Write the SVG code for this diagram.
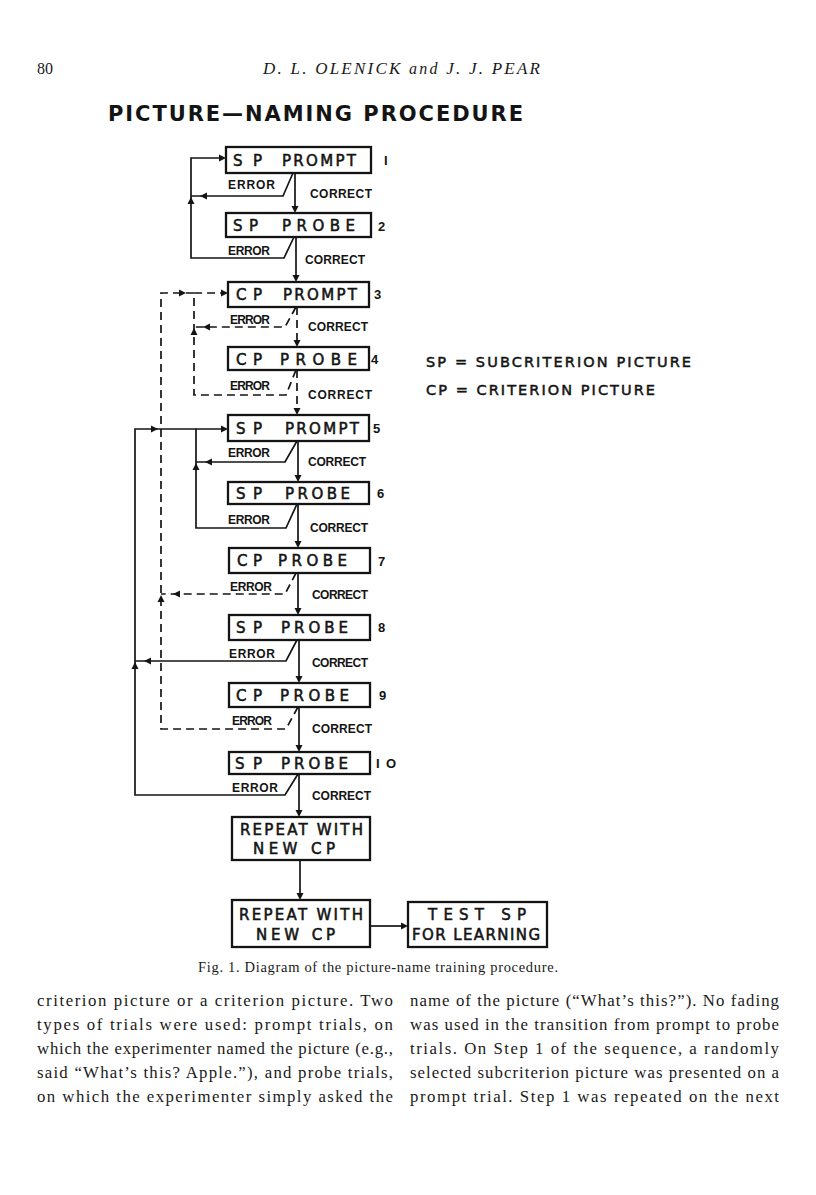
<svg xmlns="http://www.w3.org/2000/svg" xmlns:xlink="http://www.w3.org/1999/xlink" width="816" height="1195" viewBox="0 0 816 1195">
<style>
.bg{fill:#ffffff}
.box{fill:#fff;stroke:#141414;stroke-width:2.3}
.ln{fill:none;stroke:#141414;stroke-width:1.7}
.dsh{stroke-dasharray:8 5}
.lbl{font-family:"DejaVu Sans","Liberation Sans",sans-serif;font-size:15px;fill:#141414;stroke:#141414;stroke-width:0.55}
.sm{font-family:"Liberation Sans",Arial,sans-serif;font-weight:bold;font-size:12px;fill:#141414}
.num{font-family:"Liberation Sans",Arial,sans-serif;font-weight:bold;font-size:13px;fill:#141414}
.key{font-family:"DejaVu Sans","Liberation Sans",sans-serif;font-size:14.5px;fill:#141414;stroke:#141414;stroke-width:0.5}
.title{font-family:"DejaVu Sans","Liberation Sans",sans-serif;font-weight:bold;font-size:21px;fill:#141414}
.serif{font-family:"Liberation Serif","Times New Roman",serif;fill:#1a1a1a}
.body{font-family:"Liberation Serif","Times New Roman",serif;font-size:16.8px;fill:#1a1a1a}
.ah{fill:#141414}
</style>
<defs>
<path id="arr" d="M0,0 L-7,-3.5 L-7,3.5 Z"/>
</defs>
<rect class="bg" x="0" y="0" width="816" height="1195"/>

<g id="header">
<text class="serif" x="37" y="74" font-size="16">80</text>
<text class="serif" x="263" y="74" font-size="17" font-style="italic" textLength="277" lengthAdjust="spacing">D. L. OLENICK <tspan font-size="16">and</tspan> J. J. PEAR</text>
<text class="title" x="108" y="121" textLength="415" lengthAdjust="spacing">PICTURE—NAMING  PROCEDURE</text>
</g>

<g id="connectors">
<!-- main correct line -->
<line class="ln" x1="295" y1="173" x2="295" y2="207"/>
<line class="ln" x1="296" y1="237" x2="296" y2="276"/>
<line class="ln dsh" x1="297" y1="307" x2="297" y2="341"/>
<line class="ln dsh" x1="297" y1="370" x2="297" y2="409"/>
<line class="ln" x1="298" y1="441" x2="298" y2="476"/>
<line class="ln" x1="298" y1="504" x2="298" y2="542"/>
<line class="ln" x1="298" y1="573" x2="298" y2="609"/>
<line class="ln" x1="299" y1="640" x2="299" y2="677"/>
<line class="ln" x1="299" y1="707" x2="299" y2="746"/>
<line class="ln" x1="299" y1="774" x2="299" y2="811"/>
<line class="ln" x1="300" y1="860" x2="300" y2="894"/>
<line class="ln" x1="370" y1="926" x2="402" y2="926"/>

<!-- loop 1/2 (solid) -->
<polyline class="ln" points="293,173 283,196 191,196"/>
<polyline class="ln" points="294,237 284,258 191,258 191,158 220,158"/>
<!-- loop 3/4 (dashed) -->
<polyline class="ln dsh" points="296,307 285,327 194,327"/>
<polyline class="ln dsh" points="296,370 286,395 194,395 194,293 222,293"/>
<!-- outer dashed -->
<polyline class="ln dsh" points="296,573 285,594 161,594"/>
<polyline class="ln dsh" points="298,707 286,729 161,729 161,293 194,293"/>
<!-- loop 5/6 (solid) -->
<polyline class="ln" points="297,441 285,462 196,462"/>
<polyline class="ln" points="297,504 286,528 196,528 196,429 222,429"/>
<!-- outer solid -->
<polyline class="ln" points="297,640 286,661 135,661"/>
<polyline class="ln" points="298,774 285,795 135,795 135,429 196,429"/>

<!-- arrowheads -->
<use class="ah" xlink:href="#arr" transform="translate(295,213) rotate(90)"/>
<use class="ah" xlink:href="#arr" transform="translate(296,282) rotate(90)"/>
<use class="ah" xlink:href="#arr" transform="translate(297,347) rotate(90)"/>
<use class="ah" xlink:href="#arr" transform="translate(297,415) rotate(90)"/>
<use class="ah" xlink:href="#arr" transform="translate(298,482) rotate(90)"/>
<use class="ah" xlink:href="#arr" transform="translate(298,548) rotate(90)"/>
<use class="ah" xlink:href="#arr" transform="translate(298,615) rotate(90)"/>
<use class="ah" xlink:href="#arr" transform="translate(299,683) rotate(90)"/>
<use class="ah" xlink:href="#arr" transform="translate(299,752) rotate(90)"/>
<use class="ah" xlink:href="#arr" transform="translate(299,817) rotate(90)"/>
<use class="ah" xlink:href="#arr" transform="translate(300,900) rotate(90)"/>
<use class="ah" xlink:href="#arr" transform="translate(408,926)"/>

<use class="ah" xlink:href="#arr" transform="translate(226,158)"/>
<use class="ah" xlink:href="#arr" transform="translate(200,196) rotate(180)"/>
<use class="ah" xlink:href="#arr" transform="translate(191,197) rotate(-90)"/>

<use class="ah" xlink:href="#arr" transform="translate(228,293)"/>
<use class="ah" xlink:href="#arr" transform="translate(186,293)"/>
<use class="ah" xlink:href="#arr" transform="translate(203,327) rotate(180)"/>
<use class="ah" xlink:href="#arr" transform="translate(194,328) rotate(-90)"/>

<use class="ah" xlink:href="#arr" transform="translate(173,594) rotate(180)"/>
<use class="ah" xlink:href="#arr" transform="translate(161,595) rotate(-90)"/>

<use class="ah" xlink:href="#arr" transform="translate(228,429)"/>
<use class="ah" xlink:href="#arr" transform="translate(158,429)"/>
<use class="ah" xlink:href="#arr" transform="translate(205,462) rotate(180)"/>
<use class="ah" xlink:href="#arr" transform="translate(196,463) rotate(-90)"/>

<use class="ah" xlink:href="#arr" transform="translate(144,661) rotate(180)"/>
<use class="ah" xlink:href="#arr" transform="translate(135,662) rotate(-90)"/>

<!-- connector labels -->
<text class="sm" x="228" y="189" textLength="47">ERROR</text>
<text class="sm" x="310" y="198" textLength="62">CORRECT</text>
<text class="sm" x="228" y="255" textLength="42">ERROR</text>
<text class="sm" x="305" y="264" textLength="60">CORRECT</text>
<text class="sm" x="230" y="324" textLength="40">ERROR</text>
<text class="sm" x="308" y="331" textLength="60">CORRECT</text>
<text class="sm" x="230" y="390" textLength="40">ERROR</text>
<text class="sm" x="308" y="399" textLength="64">CORRECT</text>
<text class="sm" x="228" y="457" textLength="42">ERROR</text>
<text class="sm" x="308" y="466" textLength="58">CORRECT</text>
<text class="sm" x="228" y="524" textLength="42">ERROR</text>
<text class="sm" x="310" y="532" textLength="58">CORRECT</text>
<text class="sm" x="230" y="591" textLength="42">ERROR</text>
<text class="sm" x="312" y="599" textLength="56">CORRECT</text>
<text class="sm" x="229" y="658" textLength="46">ERROR</text>
<text class="sm" x="312" y="667" textLength="56">CORRECT</text>
<text class="sm" x="232" y="725" textLength="40">ERROR</text>
<text class="sm" x="312" y="733" textLength="60">CORRECT</text>
<text class="sm" x="232" y="792" textLength="46">ERROR</text>
<text class="sm" x="312" y="800" textLength="59">CORRECT</text>
</g>

<g id="n1"><rect class="box" x="226" y="147" width="145" height="26"/>
<text class="lbl"><tspan x="233" y="166" textLength="29">SP</tspan> <tspan x="282" y="166" textLength="74">PROMPT</tspan></text>
<text class="num" x="384" y="165">I</text></g>

<g id="n2"><rect class="box" x="226" y="213" width="145" height="24"/>
<text class="lbl"><tspan x="233" y="231" textLength="25">SP</tspan> <tspan x="282" y="231" textLength="73">PROBE</tspan></text>
<text class="num" x="378" y="231">2</text></g>

<g id="n3"><rect class="box" x="228" y="282" width="141" height="25"/>
<text class="lbl"><tspan x="236" y="300" textLength="26">CP</tspan> <tspan x="283" y="300" textLength="74">PROMPT</tspan></text>
<text class="num" x="374" y="299">3</text></g>

<g id="n4"><rect class="box" x="228" y="347" width="141" height="23"/>
<text class="lbl"><tspan x="236" y="365" textLength="26">CP</tspan> <tspan x="280" y="365" textLength="77">PROBE</tspan></text>
<text class="num" x="371" y="364">4</text></g>

<g id="n5"><rect class="box" x="228" y="415" width="141" height="26"/>
<text class="lbl"><tspan x="236" y="434" textLength="26">SP</tspan> <tspan x="285" y="434" textLength="74">PROMPT</tspan></text>
<text class="num" x="373" y="433">5</text></g>

<g id="n6"><rect class="box" x="228" y="482" width="141" height="22"/>
<text class="lbl"><tspan x="236" y="499" textLength="26">SP</tspan> <tspan x="285" y="499" textLength="65">PROBE</tspan></text>
<text class="num" x="377" y="498">6</text></g>

<g id="n7"><rect class="box" x="229" y="548" width="141" height="25"/>
<text class="lbl"><tspan x="237" y="566" textLength="25">CP</tspan> <tspan x="278" y="566" textLength="69">PROBE</tspan></text>
<text class="num" x="378" y="566">7</text></g>

<g id="n8"><rect class="box" x="229" y="615" width="141" height="25"/>
<text class="lbl"><tspan x="236" y="633" textLength="26">SP</tspan> <tspan x="281" y="633" textLength="67">PROBE</tspan></text>
<text class="num" x="378" y="632">8</text></g>

<g id="n9"><rect class="box" x="229" y="683" width="141" height="24"/>
<text class="lbl"><tspan x="236" y="701" textLength="26">CP</tspan> <tspan x="280" y="701" textLength="69">PROBE</tspan></text>
<text class="num" x="379" y="700">9</text></g>

<g id="n10"><rect class="box" x="229" y="752" width="141" height="22"/>
<text class="lbl"><tspan x="235" y="769" textLength="27">SP</tspan> <tspan x="281" y="769" textLength="67">PROBE</tspan></text>
<text class="num" x="376" y="768" textLength="20">IO</text></g>

<g id="n11"><rect class="box" x="232" y="817" width="138" height="43"/>
<text class="lbl" x="240" y="835" textLength="123">REPEAT WITH</text>
<text class="lbl" x="253" y="854" textLength="82">NEW CP</text></g>

<g id="n12"><rect class="box" x="232" y="900" width="138" height="47"/>
<text class="lbl" x="239" y="920" textLength="124">REPEAT WITH</text>
<text class="lbl" x="256" y="940" textLength="79">NEW CP</text></g>

<g id="n13"><rect class="box" x="408" y="902" width="139" height="45"/>
<text class="lbl" x="428" y="920" textLength="98">TEST SP</text>
<text class="lbl" x="412" y="940" textLength="128">FOR LEARNING</text></g>

<g id="legend">
<text class="key" x="426" y="367" textLength="265">SP = SUBCRITERION PICTURE</text>
<text class="key" x="426" y="395" textLength="229">CP = CRITERION PICTURE</text>
</g>

<g id="caption">
<text class="serif" x="198" y="972" font-size="14.5" textLength="360">Fig. 1. Diagram of the picture-name training procedure.</text>
</g>

<g id="bodytext">
<text class="body" x="37" y="1006" textLength="356" lengthAdjust="spacing">criterion picture or a criterion picture. Two</text>
<text class="body" x="37" y="1030" textLength="356" lengthAdjust="spacing">types of trials were used: prompt trials, on</text>
<text class="body" x="37" y="1054" textLength="356" lengthAdjust="spacing">which the experimenter named the picture (e.g.,</text>
<text class="body" x="37" y="1078" textLength="356" lengthAdjust="spacing">said “What’s this? Apple.”), and probe trials,</text>
<text class="body" x="37" y="1102" textLength="356" lengthAdjust="spacing">on which the experimenter simply asked the</text>
<text class="body" x="410" y="1006" textLength="369" lengthAdjust="spacing">name of the picture (“What’s this?”). No fading</text>
<text class="body" x="410" y="1030" textLength="369" lengthAdjust="spacing">was used in the transition from prompt to probe</text>
<text class="body" x="410" y="1054" textLength="369" lengthAdjust="spacing">trials. On Step 1 of the sequence, a randomly</text>
<text class="body" x="410" y="1078" textLength="369" lengthAdjust="spacing">selected subcriterion picture was presented on a</text>
<text class="body" x="410" y="1102" textLength="369" lengthAdjust="spacing">prompt trial. Step 1 was repeated on the next</text>
</g>
</svg>
